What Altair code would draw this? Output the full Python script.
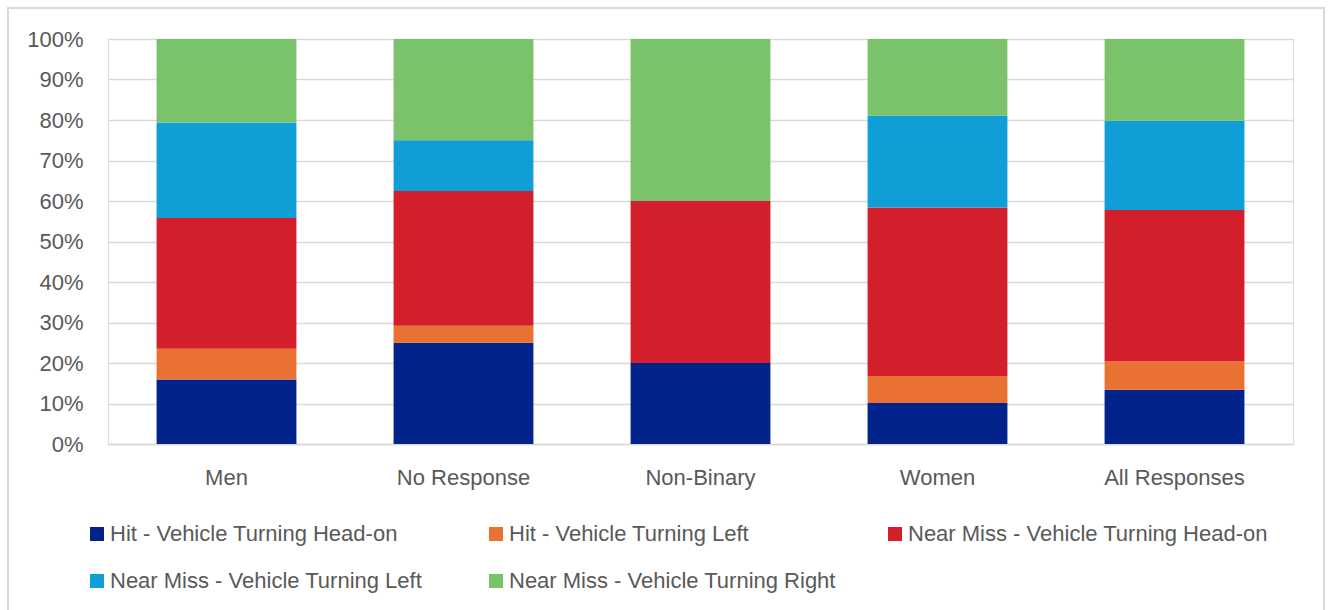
import altair as alt
import pandas as pd

# Respondent groups (x axis) and outcome categories (stack order, bottom to top)
groups = ["Men", "No Response", "Non-Binary", "Women", "All Responses"]
outcomes = [
    "Hit - Vehicle Turning Head-on",
    "Hit - Vehicle Turning Left",
    "Near Miss - Vehicle Turning Head-on",
    "Near Miss - Vehicle Turning Left",
    "Near Miss - Vehicle Turning Right",
]
colors = ["#03238C", "#E97132", "#D31F2C", "#0F9ED5", "#7AC36A"]

# Share of responses (%) per group, one list per outcome
hit_head_on = [15.9, 25.0, 20.0, 10.1, 13.4]
hit_left = [7.6, 4.2, 0.0, 6.7, 7.0]
near_head_on = [32.3, 33.3, 40.0, 41.6, 37.4]
near_left = [23.6, 12.5, 0.0, 22.7, 22.0]
near_right = [20.6, 25.0, 40.0, 18.9, 20.2]

series = [hit_head_on, hit_left, near_head_on, near_left, near_right]
rows = []
for k, (name, vals) in enumerate(zip(outcomes, series)):
    for g, v in zip(groups, vals):
        rows.append({"group": g, "outcome": name, "share": v / 100.0, "rank": k})
df = pd.DataFrame(rows)

FONT = "Liberation Sans"
GREY = "#595959"
LINE = "#d9d9d9"

bars = alt.Chart(df).mark_bar().encode(
    x=alt.X(
        "group:N",
        sort=groups,
        title=None,
        scale=alt.Scale(paddingInner=0.41, paddingOuter=0.205),
        axis=alt.Axis(
            labelAngle=0,
            labelFontSize=22,
            labelColor=GREY,
            labelFont=FONT,
            labelPadding=23,
            ticks=False,
            domainColor=LINE,
            domainWidth=1.5,
            grid=False,
        ),
    ),
    y=alt.Y(
        "share:Q",
        stack="zero",
        title=None,
        scale=alt.Scale(domain=[0, 1], nice=False),
        axis=alt.Axis(
            format=".0%",
            values=[i / 10 for i in range(11)],
            labelFontSize=22,
            labelColor=GREY,
            labelFont=FONT,
            labelPadding=25,
            ticks=False,
            domain=False,
            gridColor=LINE,
            gridWidth=1.5,
        ),
    ),
    color=alt.Color(
        "outcome:N",
        sort=outcomes,
        scale=alt.Scale(domain=outcomes, range=colors),
        legend=alt.Legend(
            title=None,
            orient="none",
            legendX=-22,
            legendY=484,
            direction="horizontal",
            columns=3,
            gridAlign="all",
            columnPadding=15,
            rowPadding=25,
            symbolType="square",
            symbolSize=196,
            symbolStrokeWidth=0,
            labelFontSize=22,
            labelFont=FONT,
            labelColor=GREY,
            labelOffset=2,
            labelLimit=500,
        ),
    ),
    order=alt.Order("rank:Q", sort="ascending"),
)

# Light frame around the whole chart
frame = alt.Chart(pd.DataFrame({"f": [0]})).mark_rect(
    fill=None, stroke=LINE, strokeWidth=2
).encode(
    x=alt.value(-100), x2=alt.value(1216), y=alt.value(-31), y2=alt.value(600)
)

chart = (
    alt.layer(bars, frame)
    .properties(
        width=1185,
        height=405,
        autosize=alt.AutoSizeParams(type="none"),
        padding={"left": 108, "top": 39, "right": 35, "bottom": 166},
    )
    .configure_view(stroke=None)
    .configure(background="white")
)

chart.save("out.html", embed_options={"renderer": "svg", "actions": False})
